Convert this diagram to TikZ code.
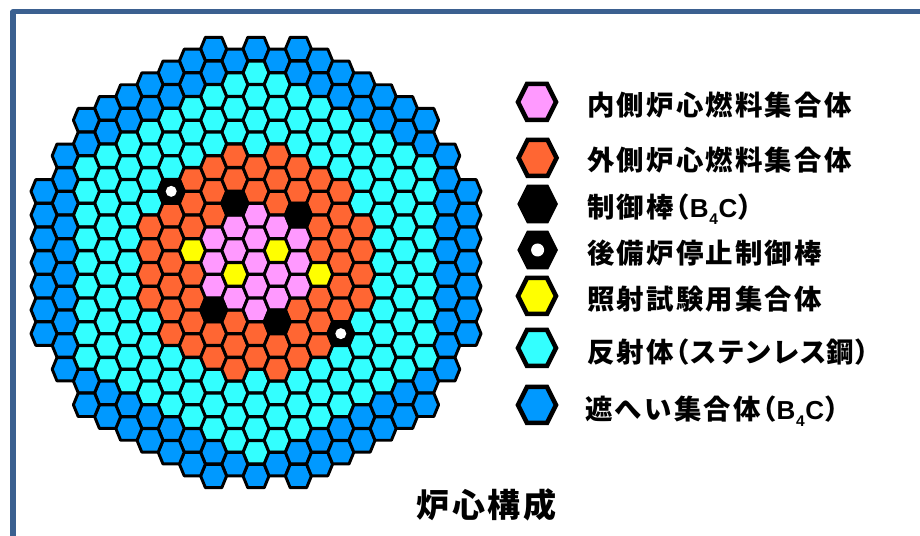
\documentclass[tikz,border=0pt]{standalone}
\usepackage{fontspec}
\newfontfamily\jpfont[LetterSpace=8]{Noto Sans CJK JP}
\newfontfamily\latfont{Liberation Sans}
\definecolor{framecol}{HTML}{3B6090}
\definecolor{innercol}{HTML}{FF99FF}
\definecolor{outercol}{HTML}{FF6633}
\definecolor{testcol}{HTML}{FFFF00}
\definecolor{reflcol}{HTML}{33FFFF}
\definecolor{shieldcol}{HTML}{0099FF}
\tikzset{
  hexcell/.pic={\draw[pic actions,line width=2.1pt,line join=round] (-13,0)--(-8.2,-11.7)--(8.2,-11.7)--(13,0)--(8.2,11.7)--(-8.2,11.7)--cycle;},
  hexkey/.pic={\draw[pic actions,line width=3.2pt,line join=miter] (-19,0)--(-10,-18)--(10,-18)--(19,0)--(10,18)--(-10,18)--cycle;},
  keytext/.style={anchor=west,inner sep=0pt,font=\jpfont\bfseries\fontsize{19.5pt}{24pt}\selectfont,text height=17pt,text depth=1.5pt},
}
\newcommand{\subfour}{{\latfont\bfseries\fontsize{18.5pt}{20pt}\selectfont B\kern.5pt\raisebox{-4.5pt}{\fontsize{11pt}{12pt}\selectfont 4}\kern.5pt C}}
\begin{document}
\begin{tikzpicture}[x=0.025cm,y=-0.025cm]
\useasboundingbox (0,0) rectangle (920,536);
\draw[framecol,line width=3.6pt,line join=round] (13,540)--(13,11.8)--(924,11.8);
% core: column / outermost row / first shield row
\foreach \c/\n/\b in {0/18/18,1/17/17,-1/17/17,2/18/16,-2/18/16,3/17/15,-3/17/15,4/16/14,-4/16/14,5/15/13,-5/15/13,6/14/12,-6/14/12,7/13/11,-7/13/11,8/12/10,-8/12/10,9/9/0,-9/9/0,10/6/0,-10/6/0}{
  \pgfmathtruncatemacro{\hb}{-\n+2}
  \foreach \h in {-\n,\hb,...,\n}{
    \pgfmathsetmacro{\mycol}{abs(\h)>=\b ? "shieldcol" : "reflcol"}
    \pic[fill=\mycol] at ({256+21.2*\c},{262.5+11.86*\h}) {hexcell};
  }
}
% outer fuel
\foreach \c/\h in {-5/-3,-5/-1,-5/1,-5/3,-4/-4,-4/-2,-4/0,-4/2,-4/4,-4/6,-3/-7,-3/-5,-3/-3,-3/1,-3/3,-3/5,-3/7,-2/-8,-2/-6,-2/-4,-2/6,-2/8,-1/-9,-1/-7,-1/5,-1/7,-1/9,0/-8,0/-6,0/6,0/8,1/-9,1/-7,1/-5,1/7,1/9,2/-8,2/-6,2/4,2/6,2/8,3/-7,3/-5,3/-3,3/-1,3/3,3/5,3/7,4/-6,4/-4,4/-2,4/0,4/2,4/4,5/-3,5/-1,5/1,5/3}
  \pic[fill=outercol] at ({256+21.2*\c},{262.5+11.86*\h}) {hexcell};
% inner fuel
\foreach \c/\h in {-2/-2,-2/0,-2/2,-1/-3,-1/-1,-1/3,0/-4,0/-2,0/0,0/2,0/4,1/-3,1/1,1/3,2/-2,2/0,2/2}
  \pic[fill=innercol] at ({256+21.2*\c},{262.5+11.86*\h}) {hexcell};
% test assemblies
\foreach \c/\h in {-3/-1,-1/1,1/-1,3/1}
  \pic[fill=testcol] at ({256+21.2*\c},{262.5+11.86*\h}) {hexcell};
% control rods
\foreach \c/\h in {-2/4,-1/-5,1/5,2/-4}
  \pic[fill=black] at ({256+21.2*\c},{262.5+11.86*\h}) {hexcell};
% backup rods
\foreach \c/\h in {-4/-6,4/6}{
  \pic[fill=black] at ({256+21.2*\c},{262.5+11.86*\h}) {hexcell};
  \fill[white] ({256+21.2*\c},{262.5+11.86*\h}) circle (5.5);
}
% legend
\pic[fill=innercol] at (537,102) {hexkey};
\pic[fill=outercol] at (537.6,158) {hexkey};
\pic[fill=black,draw=none,scale=1.07] at (537.6,204) {hexkey};
\pic[fill=black,draw=none,scale=1.07] at (537.6,250) {hexkey};
\fill[white] (537.6,250) circle (6.5);
\pic[fill=testcol] at (537,296) {hexkey};
\pic[fill=reflcol] at (537,348) {hexkey};
\pic[fill=shieldcol] at (537,405) {hexkey};
\node[keytext] (inner) at (587,105) {内側炉心燃料集合体};
\node[keytext] (outer) at (587,160) {外側炉心燃料集合体};
\node[keytext] (rod) at (587,207) {制御棒\kern-.42em（\subfour）};
\node[keytext] (backup) at (587,253) {後備炉停止制御棒};
\node[keytext] (test) at (587,299) {照射試験用集合体};
\node[keytext] (refl) at (587,352) {反射体\kern-.42em（\kern0pt ス\kern0pt テ\kern0pt ン\kern0pt レ\kern0pt ス\kern0pt 鋼\kern0pt ）};
\node[keytext] (shield) at (585,409) {遮へい集合体\kern-.42em（\subfour）};
\node[inner sep=0pt,font=\jpfont\bfseries\fontsize{23.5pt}{28pt}\selectfont] (title) at (486.5,505) {炉心構成};
\end{tikzpicture}
\end{document}
